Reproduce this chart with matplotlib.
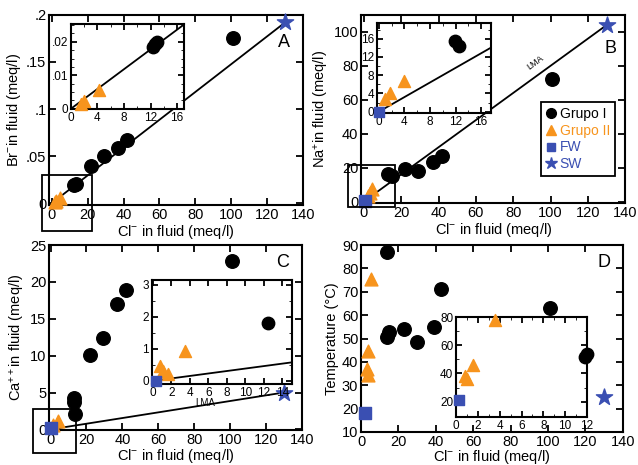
import numpy as np
import matplotlib
matplotlib.use('Agg')
import matplotlib.pyplot as plt
from matplotlib.patches import Rectangle
from matplotlib.lines import Line2D
from matplotlib.ticker import AutoMinorLocator

# colores
NEGRO = 'black'
NARANJA = '#f7941d'
AZUL = '#3a4fb2'

# --- Panel A: Br vs Cl ---
a_g1_cl = [12.5, 13.5, 22, 29, 37, 42, 101]
a_g1_br = [0.019, 0.0205, 0.039, 0.050, 0.059, 0.067, 0.175]
a_g2_cl = [1.5, 2.5, 4.3]
a_g2_br = [0.0015, 0.0025, 0.0055]
a_sw = (130, 0.192)
ai_g1_cl = [12.3, 12.7, 13.0]
ai_g1_br = [0.0185, 0.0192, 0.0198]
ai_g2_cl = [1.5, 2.0, 4.3]
ai_g2_br = [0.0015, 0.0022, 0.0057]

# --- Panel B: Na vs Cl ---
b_g1_cl = [13, 15, 22, 29, 37, 42, 101]
b_g1_na = [16.5, 15, 19, 18, 23, 27, 72]
b_g2_cl = [2, 3, 4.5]
b_g2_na = [3.5, 5, 7.5]
b_fw = (0.5, 0.5)
b_sw = (130, 104)
bi_g1_cl = [11.9, 12.5]
bi_g1_na = [15.5, 14.3]
bi_g2_cl = [1.0, 1.8, 4.0]
bi_g2_na = [2.8, 4.0, 6.8]
bi_fw = (0, 0)

# --- Panel C: Ca vs Cl ---
c_g1_cl = [13, 13, 13.5, 22, 29, 37, 42, 101]
c_g1_ca = [4.3, 3.7, 2.1, 10.1, 12.4, 17.0, 18.9, 22.9]
c_g2_cl = [1.5, 4]
c_g2_ca = [0.6, 1.2]
c_fw = (0.3, 0.2)
c_sw = (130, 5)
ci_g1_cl = [12.5]
ci_g1_ca = [1.8]
ci_g2_cl = [0.8, 1.1, 1.6, 3.5]
ci_g2_ca = [0.45, 0.3, 0.2, 0.92]
ci_fw = (0.3, 0.0)

# --- Panel D: Temperatura vs Cl ---
d_g1_cl = [14, 14, 15, 23, 30, 39, 43, 101]
d_g1_t = [87, 50.5, 53, 54, 48.5, 55, 71, 63]
d_g2_cl = [5.5, 3.5, 3, 3.5]
d_g2_t = [75.5, 44.5, 37, 34.5]
d_fw = (2, 18)
d_sw = (130, 25)
di_g1_cl = [11.8, 12.0]
di_g1_t = [52, 54]
di_g2_cl = [3.6, 1.5, 0.8, 1.0]
di_g2_t = [78, 46, 38.5, 36]
di_fw = (0.3, 21)

plt.rcParams.update({
    'font.family': 'Liberation Sans',
    'font.size': 10.5,
    'mathtext.fontset': 'custom',
    'mathtext.rm': 'Liberation Sans',
    'mathtext.it': 'Liberation Sans',
    'axes.linewidth': 1.5,
    'xtick.direction': 'in',
    'ytick.direction': 'in',
    'xtick.top': True,
    'ytick.right': True,
    'xtick.major.width': 1.3,
    'ytick.major.width': 1.3,
    'xtick.major.size': 5,
    'ytick.major.size': 5,
    'xtick.minor.size': 3,
    'ytick.minor.size': 3,
    'xtick.major.pad': 2,
    'ytick.major.pad': 2,
})

fig = plt.figure(figsize=(6.38, 4.65), dpi=100)

S_CIRC, S_TRI, S_SQ, S_STAR = 95, 85, 65, 150
S_CIRC_I, S_TRI_I, S_SQ_I = 80, 75, 60


def puntos(ax, g1x, g1y, g2x, g2y, fw=None, sw=None, chico=False):
    sc = S_CIRC_I if chico else S_CIRC
    st = S_TRI_I if chico else S_TRI
    ss = S_SQ_I if chico else S_SQ
    ax.scatter(g1x, g1y, s=sc, c=NEGRO, marker='o', zorder=4, clip_on=False)
    ax.scatter(g2x, g2y, s=st, c=NARANJA, marker='^', zorder=5, clip_on=False)
    if fw is not None:
        ax.scatter([fw[0]], [fw[1]], s=ss, c=AZUL, marker='s', zorder=6, clip_on=False)
    if sw is not None:
        ax.scatter([sw[0]], [sw[1]], s=S_STAR, c=AZUL, marker='*', zorder=6, clip_on=False)


def recta(ax, sw, xmax):
    m = sw[1] / sw[0]
    ax.plot([0, xmax], [0, m * xmax], color='black', lw=1.3, zorder=3)


def caja(ax, x0, y0, w, h):
    ax.add_patch(Rectangle((x0, y0), w, h, fill=False, lw=1.3, ec='black',
                           clip_on=False, zorder=7))


xlab = 'Cl$^{-}$ in fluid (meq/l)'

# ================= A =================
axA = fig.add_axes([0.077, 0.559, 0.398, 0.409])
recta(axA, a_sw, 130)
puntos(axA, a_g1_cl, a_g1_br, a_g2_cl, a_g2_br, sw=a_sw)
axA.set_xlim(-1.5, 140)
axA.set_ylim(-0.002, 0.2)
axA.set_xticks([0, 20, 40, 60, 80, 100, 120, 140])
axA.set_yticks([0, 0.05, 0.1, 0.15, 0.2])
axA.set_yticklabels(['0', '.05', '.1', '.15', '.2'])
axA.set_xlabel(xlab, labelpad=0.5)
axA.set_ylabel('Br$^{-}$in fluid (meq/l)', labelpad=2)
axA.text(0.925, 0.83, 'A', transform=axA.transAxes, fontsize=13, ha='center')
caja(axA, -5.5, -0.03, 28, 0.06)

axAi = fig.add_axes([0.111, 0.766, 0.177, 0.183])
recta(axAi, a_sw, 17)
puntos(axAi, ai_g1_cl, ai_g1_br, ai_g2_cl, ai_g2_br, chico=True)
axAi.set_xlim(0, 17)
axAi.set_ylim(0, 0.0254)
axAi.set_xticks([0, 4, 8, 12, 16])
axAi.set_yticks([0, 0.01, 0.02])
axAi.set_yticklabels(['0', '.01', '.02'])
axAi.xaxis.set_minor_locator(AutoMinorLocator(2))
axAi.yaxis.set_minor_locator(AutoMinorLocator(4))
axAi.tick_params(labelsize=8.5, length=4)
axAi.tick_params(which='minor', length=2.5)

# ================= B =================
axB = fig.add_axes([0.566, 0.563, 0.414, 0.405])
recta(axB, b_sw, 130)
puntos(axB, b_g1_cl, b_g1_na, b_g2_cl, b_g2_na, fw=b_fw, sw=b_sw)
axB.set_xlim(-1.5, 140)
axB.set_ylim(-1, 110)
axB.set_xticks([0, 20, 40, 60, 80, 100, 120, 140])
axB.set_yticks([0, 20, 40, 60, 80, 100])
axB.set_xlabel(xlab, labelpad=0.5)
axB.set_ylabel('Na$^{+}$in fluid (meq/l)', labelpad=2)
axB.text(0.945, 0.8, 'B', transform=axB.transAxes, fontsize=13, ha='center')
axB.text(93, 80, 'LMA', fontsize=6.5, rotation=np.degrees(np.arctan2(b_sw[1], b_sw[0])),
         transform_rotates_text=True, rotation_mode='anchor', ha='center', va='bottom')
caja(axB, -8.6, -3.2, 25.2, 25)

axBi = fig.add_axes([0.591, 0.757, 0.179, 0.194])
recta(axBi, b_sw, 17.6)
puntos(axBi, bi_g1_cl, bi_g1_na, bi_g2_cl, bi_g2_na, fw=bi_fw, chico=True)
axBi.set_xlim(-0.3, 17.6)
axBi.set_ylim(-0.3, 19.5)
axBi.set_xticks([0, 4, 8, 12, 16])
axBi.set_yticks([0, 4, 8, 12, 16])
axBi.xaxis.set_minor_locator(AutoMinorLocator(2))
axBi.yaxis.set_minor_locator(AutoMinorLocator(2))
axBi.tick_params(labelsize=8.5, length=4)
axBi.tick_params(which='minor', length=2.5)

# leyenda
manejadores = [
    Line2D([], [], ls='', marker='o', color=NEGRO, markersize=7),
    Line2D([], [], ls='', marker='^', color=NARANJA, markersize=7),
    Line2D([], [], ls='', marker='s', color=AZUL, markersize=6),
    Line2D([], [], ls='', marker='*', color=AZUL, markersize=9),
]
leg = fig.legend(manejadores, ['Grupo I', 'Grupo II', 'FW', 'SW'],
                 loc='upper left', bbox_to_anchor=(541 / 638, 1 - 102 / 465),
                 frameon=True, fancybox=False, edgecolor='black', framealpha=1,
                 handlelength=0.7, handletextpad=0.3, borderpad=0.35,
                 labelspacing=0.2, fontsize=10, borderaxespad=0)
leg.get_frame().set_linewidth(1.3)
for t, col in zip(leg.get_texts(), [NEGRO, NARANJA, AZUL, AZUL]):
    t.set_color(col)

# ================= C =================
axC = fig.add_axes([0.077, 0.075, 0.396, 0.398])
recta(axC, c_sw, 130)
puntos(axC, c_g1_cl, c_g1_ca, c_g2_cl, c_g2_ca, fw=c_fw, sw=c_sw)
axC.set_xlim(-0.8, 140)
axC.set_ylim(-0.1, 25)
axC.set_xticks([0, 20, 40, 60, 80, 100, 120, 140])
axC.set_yticks([0, 5, 10, 15, 20, 25])
axC.set_xlabel(xlab, labelpad=0)
axC.set_ylabel('Ca$^{++}$in fluid (meq/l)', labelpad=2)
axC.text(0.925, 0.88, 'C', transform=axC.transAxes, fontsize=13, ha='center')
axC.text(86, 3.6, 'LMA', fontsize=7, ha='center', va='center')
caja(axC, -10, -3.2, 24.4, 5.9)

axCi = fig.add_axes([0.238, 0.174, 0.219, 0.224])
recta(axCi, c_sw, 15)
puntos(axCi, ci_g1_cl, ci_g1_ca, ci_g2_cl, ci_g2_ca, fw=ci_fw, chico=True)
axCi.set_xlim(-0.1, 15)
axCi.set_ylim(-0.1, 3.15)
axCi.set_xticks(np.arange(0, 15, 2))
axCi.set_yticks([0, 1, 2, 3])
axCi.yaxis.set_minor_locator(AutoMinorLocator(2))
axCi.tick_params(labelsize=8.5, length=4)
axCi.tick_params(which='minor', length=2.5)

# ================= D =================
axD = fig.add_axes([0.566, 0.071, 0.410, 0.402])
puntos(axD, d_g1_cl, d_g1_t, d_g2_cl, d_g2_t, fw=d_fw, sw=d_sw)
axD.set_xlim(0, 140)
axD.set_ylim(10, 90)
axD.set_xticks([0, 20, 40, 60, 80, 100, 120, 140])
axD.set_yticks(np.arange(10, 91, 10))
axD.set_xlabel(xlab, labelpad=-0.5)
axD.set_ylabel('Temperature (°C)', labelpad=2)
axD.text(0.93, 0.88, 'D', transform=axD.transAxes, fontsize=13, ha='center')

axDi = fig.add_axes([0.715, 0.103, 0.205, 0.215])
puntos(axDi, di_g1_cl, di_g1_t, di_g2_cl, di_g2_t, fw=di_fw, chico=True)
axDi.set_xlim(0, 12)
axDi.set_ylim(9, 80)
axDi.set_xticks([0, 2, 4, 6, 8, 10, 12])
axDi.set_yticks([20, 40, 60, 80])
axDi.xaxis.set_minor_locator(AutoMinorLocator(2))
axDi.yaxis.set_minor_locator(AutoMinorLocator(2))
axDi.tick_params(labelsize=8.5, length=4)
axDi.tick_params(which='minor', length=2.5)

for ax in [axAi, axBi, axCi, axDi]:
    ax.set_zorder(5)
    ax.patch.set_facecolor('white')

fig.savefig('out.png', dpi=100)
